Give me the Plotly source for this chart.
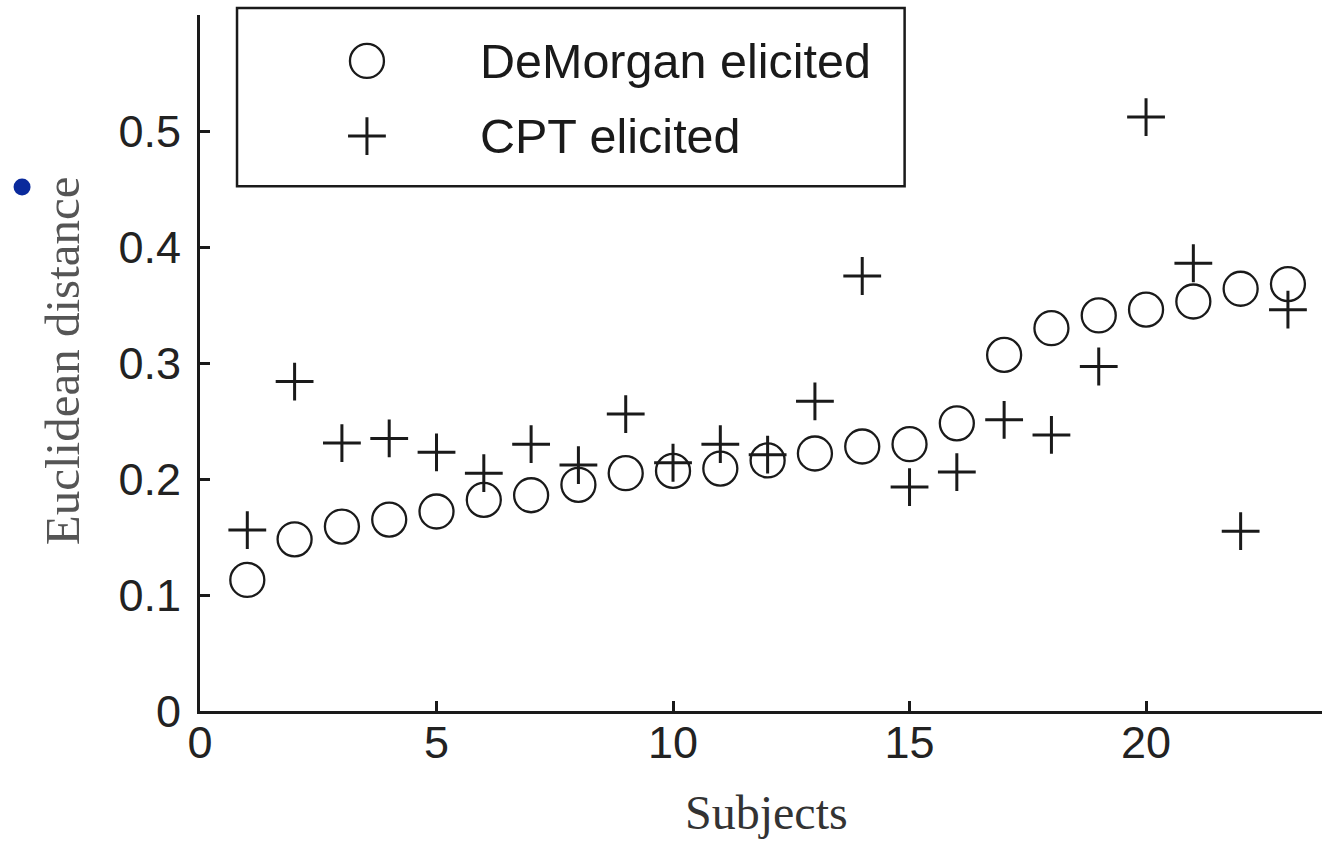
import plotly.graph_objects as go

# ---- data ----
subjects = list(range(1, 24))
demorgan = [0.113, 0.148, 0.159, 0.165, 0.172, 0.182, 0.186, 0.195, 0.205, 0.207,
            0.209, 0.216, 0.222, 0.228, 0.230, 0.248, 0.307, 0.330, 0.341, 0.346,
            0.353, 0.364, 0.368]
cpt = [0.156, 0.284, 0.231, 0.235, 0.223, 0.205, 0.230, 0.212, 0.256, 0.214,
       0.230, 0.221, 0.267, 0.375, 0.193, 0.206, 0.251, 0.238, 0.297, 0.512,
       0.386, 0.155, 0.346]
series_names = ["DeMorgan elicited", "CPT elicited"]
x_ticks = [0, 5, 10, 15, 20]
y_ticks = [0, 0.1, 0.2, 0.3, 0.4, 0.5]
y_tick_text = ["0", "0.1", "0.2", "0.3", "0.4", "0.5"]

INK = "#1a1a1a"
circle_style = dict(symbol="circle-open", size=34, color=INK, line=dict(width=2.3, color=INK))
cross_style = dict(symbol="cross-thin-open", size=27, color=INK, line=dict(width=3, color=INK))

fig = go.Figure()
fig.add_trace(go.Scatter(x=subjects, y=demorgan, mode="markers", name=series_names[0],
                         marker=circle_style, cliponaxis=False, showlegend=False))
fig.add_trace(go.Scatter(x=subjects, y=cpt, mode="markers", name=series_names[1],
                         marker=cross_style, cliponaxis=False, showlegend=False))

# ---- manual legend (layout positions in paper fractions) ----
leg_key_x = 0.1488
leg_rows_y = [0.934, 0.826]
fig.add_trace(go.Scatter(x=[leg_key_x], y=[leg_rows_y[0]], mode="markers", marker=circle_style,
                         xaxis="x2", yaxis="y2", showlegend=False, hoverinfo="skip", cliponaxis=False))
fig.add_trace(go.Scatter(x=[leg_key_x], y=[leg_rows_y[1]], mode="markers", marker=cross_style,
                         xaxis="x2", yaxis="y2", showlegend=False, hoverinfo="skip", cliponaxis=False))

annotations = []
for name, yy in zip(series_names, leg_rows_y):
    annotations.append(dict(text=name, x=0.2478, y=yy, xref="paper", yref="paper",
                            xanchor="left", yanchor="middle", showarrow=False,
                            font=dict(family="Liberation Sans, Arial", size=48.5, color=INK)))
annotations.append(dict(text="Euclidean distance", x=-0.123, y=0.504, xref="paper", yref="paper",
                        xanchor="center", yanchor="middle", textangle=-90, showarrow=False,
                        font=dict(family="Liberation Serif, Times New Roman", size=49, color="#555555")))
annotations.append(dict(text="Subjects", x=0.5053, y=-0.146, xref="paper", yref="paper",
                        xanchor="center", yanchor="middle", showarrow=False,
                        font=dict(family="Liberation Serif, Times New Roman", size=48, color="#333333")))

shapes = [
    dict(type="rect", xref="paper", yref="paper", x0=0.033, x1=0.628, y0=0.754, y1=1.010,
         line=dict(color=INK, width=2.5), fillcolor="rgba(0,0,0,0)"),
    dict(type="circle", xref="paper", yref="paper", xsizemode="pixel", ysizemode="pixel",
         xanchor=-0.1586, yanchor=0.7529, x0=-8.5, x1=8.5, y0=-8.5, y1=8.5,
         line=dict(width=0), fillcolor="#0a2a9c"),
]

tick_font = dict(family="Liberation Sans, Arial", size=45, color="#222222")
fig.update_layout(
    width=1322, height=842,
    margin=dict(l=200, r=0, t=15, b=131),
    paper_bgcolor="white", plot_bgcolor="white",
    showlegend=False,
    annotations=annotations,
    shapes=shapes,
    xaxis=dict(range=[0, 23.72], tickvals=x_ticks, ticktext=[str(v) for v in x_ticks],
               showline=True, linecolor=INK, linewidth=3, mirror=False,
               ticks="inside", ticklen=10, tickwidth=3, tickcolor=INK,
               showgrid=False, zeroline=False, tickfont=tick_font, ticklabelstandoff=-10),
    yaxis=dict(range=[0, 0.6], tickvals=y_ticks, ticktext=y_tick_text,
               showline=True, linecolor=INK, linewidth=3, mirror=False,
               ticks="inside", ticklen=10, tickwidth=3, tickcolor=INK,
               showgrid=False, zeroline=False, tickfont=tick_font, ticklabelstandoff=7),
    xaxis2=dict(range=[0, 1], domain=[0, 1], overlaying="x", visible=False, fixedrange=True),
    yaxis2=dict(range=[0, 1], domain=[0, 1], overlaying="y", visible=False, fixedrange=True),
)

fig.write_html("out.html", config={"displayModeBar": False},
               post_script="document.body.style.margin='0';")
